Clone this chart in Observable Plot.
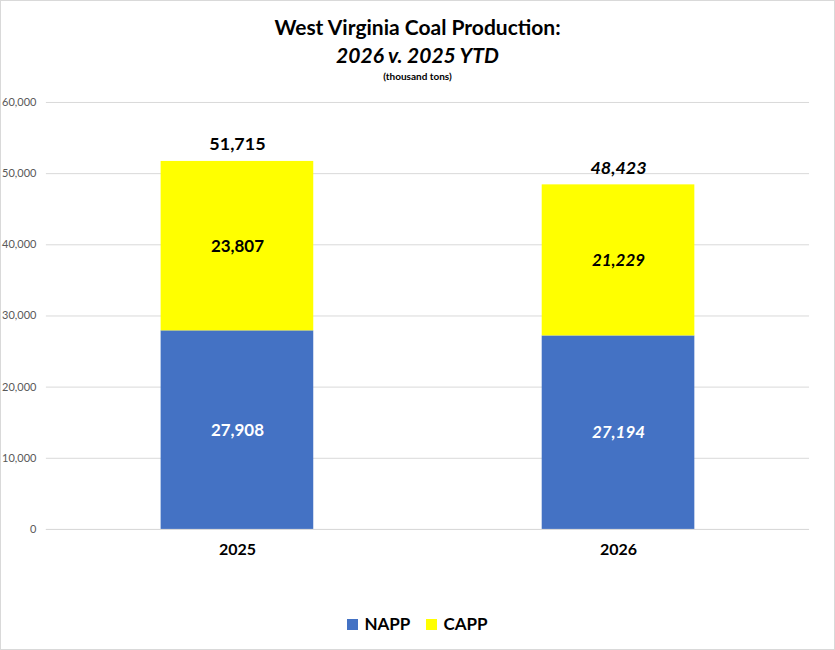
<!DOCTYPE html>
<html><head><meta charset="utf-8">
<script src="https://cdn.jsdelivr.net/npm/d3@7"></script>
<script src="https://cdn.jsdelivr.net/npm/@observablehq/plot@0.6"></script>
<style>
body{margin:0;background:#fff;font-family:Lato,"Open Sans",sans-serif;}
#wrap{position:relative;width:833px;height:648px;border:1px solid #d9d9d9;overflow:hidden}
#title{position:absolute;top:12px;left:0;width:100%;text-align:center;color:#000}
#t1{font-size:21px;font-weight:bold;line-height:28px}
#t2{font-size:21px;font-weight:bold;font-style:italic;line-height:28px}
#t3{font-size:10px;font-weight:bold;line-height:14px}
#chart{position:absolute;top:90px;left:0}
#legend{position:absolute;top:612px;left:0;width:100%;text-align:center;font-size:17px;font-weight:bold}
.sw{display:inline-block;width:11px;height:11px;margin-right:6px;vertical-align:0px}
</style></head><body>
<div id="wrap">
<div id="title"><div id="t1">West Virginia Coal Production:</div><div id="t2">2026 v. 2025 YTD</div><div id="t3">(thousand tons)</div></div>
<div id="chart"></div>
<div id="legend"><span class="sw" style="background:#4472c4"></span>NAPP&nbsp;&nbsp;&nbsp;&nbsp;<span class="sw" style="background:#ffff00"></span>CAPP</div>
</div>
<script>
const years = ["2025","2026"];
const napp = [27908, 27194];
const capp = [23807, 21229];
const series = ["NAPP","CAPP"];
const colors = ["#4472c4","#ffff00"];
const yTicks = [0,10000,20000,30000,40000,50000,60000];

const rows = [];
years.forEach((y,i)=>{
  rows.push({year:y, series:"NAPP", value:napp[i], base:0, italic:i===1});
  rows.push({year:y, series:"CAPP", value:capp[i], base:napp[i], italic:i===1});
});
const totals = years.map((y,i)=>({year:y, total:napp[i]+capp[i], italic:i===1}));
const fmt = d3.format(",");
const fam = "Lato, 'Open Sans', sans-serif";

const lbl = (data, style) => Plot.text(data, {x:"year", y:d=>d.base+d.value/2, text:d=>fmt(d.value),
  fill:d=>d.series==="NAPP"?"#fff":"#000", fontSize:17, fontWeight:"bold", fontStyle:style, fontFamily:fam});
const tot = (data, style) => Plot.text(data, {x:"year", y:"total", text:d=>fmt(d.total), dy:-17,
  fill:"#000", fontSize:18, fontWeight:"bold", fontStyle:style, fontFamily:fam});

const chart = Plot.plot({
  width:835, height:560, marginTop:11, marginBottom:121, marginLeft:45, marginRight:25,
  style:{fontFamily:fam, background:"transparent"},
  x:{domain:years, paddingInner:0.6, paddingOuter:0.3, label:null, tickSize:0},
  y:{domain:[0,60000], ticks:yTicks, label:null},
  color:{domain:series, range:colors},
  marks:[
    Plot.gridY(yTicks, {stroke:"#d9d9d9", strokeOpacity:1}),
    Plot.rectY(rows, {x:"year", y1:"base", y2:d=>d.base+d.value, fill:"series"}),
    Plot.ruleY([0], {stroke:"#d9d9d9"}),
    Plot.axisY(yTicks, {tickSize:0, tickPadding:10, tickFormat:d=>fmt(d), fontSize:11, fill:"#595959"}),
    Plot.axisX({tickSize:0, tickPadding:14, fontSize:16, fontWeight:"bold", fill:"#000"}),
    lbl(rows.filter(d=>!d.italic), "normal"),
    lbl(rows.filter(d=>d.italic), "italic"),
    tot(totals.filter(d=>!d.italic), "normal"),
    tot(totals.filter(d=>d.italic), "italic")
  ]
});
document.getElementById("chart").appendChild(chart);
</script></body></html>
